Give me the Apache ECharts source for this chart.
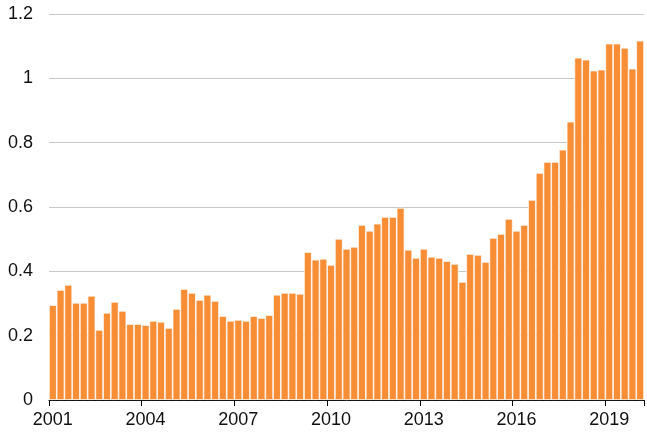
<!DOCTYPE html>
<html>
<head>
<meta charset="utf-8">
<script src="https://cdn.jsdelivr.net/npm/echarts@6/dist/echarts.min.js"></script>
<style>
html,body{margin:0;padding:0;background:#fff;}
#chart{width:647px;height:434px;}
</style>
</head>
<body>
<div id="chart"></div>
<script>
// Quarterly categories 2001 Q1 .. 2020 Q1
var years = [2001,2002,2003,2004,2005,2006,2007,2008,2009,2010,2011,2012,2013,2014,2015,2016,2017,2018,2019,2020];
var quarters = ["Q1","Q2","Q3","Q4"];
var categories = [];
years.forEach(function(y){ quarters.forEach(function(q){ categories.push(y + " " + q); }); });
categories = categories.slice(0, 77);

var values = [
  0.295, 0.342, 0.358, 0.302, 0.302, 0.324, 0.218, 0.271,
  0.305, 0.277, 0.236, 0.236, 0.233, 0.246, 0.243, 0.224,
  0.283, 0.345, 0.333, 0.311, 0.327, 0.308, 0.261, 0.246,
  0.249, 0.246, 0.261, 0.255, 0.264, 0.327, 0.333, 0.333,
  0.330, 0.460, 0.436, 0.439, 0.420, 0.501, 0.470, 0.476,
  0.544, 0.526, 0.548, 0.569, 0.569, 0.597, 0.467, 0.442,
  0.470, 0.445, 0.442, 0.432, 0.423, 0.367, 0.454, 0.451,
  0.429, 0.504, 0.516, 0.563, 0.526, 0.544, 0.622, 0.706,
  0.740, 0.740, 0.778, 0.865, 1.064, 1.058, 1.024, 1.027,
  1.108, 1.108, 1.095, 1.030, 1.117
];

var yTicks = [0, 0.2, 0.4, 0.6, 0.8, 1, 1.2];

function isYearStart(index) { return index % 12 === 0 && index < 76; }

var chart = echarts.init(document.getElementById('chart'), null, {renderer: 'canvas'});
var font = "'Liberation Sans', Arial, sans-serif";
chart.setOption({
  animation: false,
  backgroundColor: '#ffffff',
  grid: {left: 49, right: 3, top: 14, bottom: 34},
  xAxis: {
    type: 'category',
    data: categories,
    boundaryGap: true,
    axisLine: {show: true, lineStyle: {color: '#000', width: 1}},
    axisTick: {show: true, interval: isYearStart, length: 6, lineStyle: {color: '#000', width: 1}},
    axisLabel: {
      interval: isYearStart,
      margin: 11,
      fontSize: 18,
      fontFamily: font,
      color: '#111',
      formatter: function (v) { return v.slice(0, 4); }
    },
    splitLine: {show: false}
  },
  yAxis: {
    type: 'value',
    min: yTicks[0],
    max: yTicks[yTicks.length - 1],
    interval: 0.2,
    axisLine: {show: false},
    axisTick: {show: false},
    splitLine: {show: true, lineStyle: {color: '#c8c8c8', width: 1}},
    axisLabel: {
      margin: 16,
      fontSize: 18,
      fontFamily: font,
      color: '#111',
      formatter: function (v) { return String(Math.round(v * 10) / 10); }
    }
  },
  series: [{
    type: 'bar',
    data: values,
    barCategoryGap: '0%',
    itemStyle: {color: '#f78d35', borderColor: '#ffffff', borderWidth: 0.7},
    emphasis: {disabled: true}
  }]
});
</script>
</body>
</html>
